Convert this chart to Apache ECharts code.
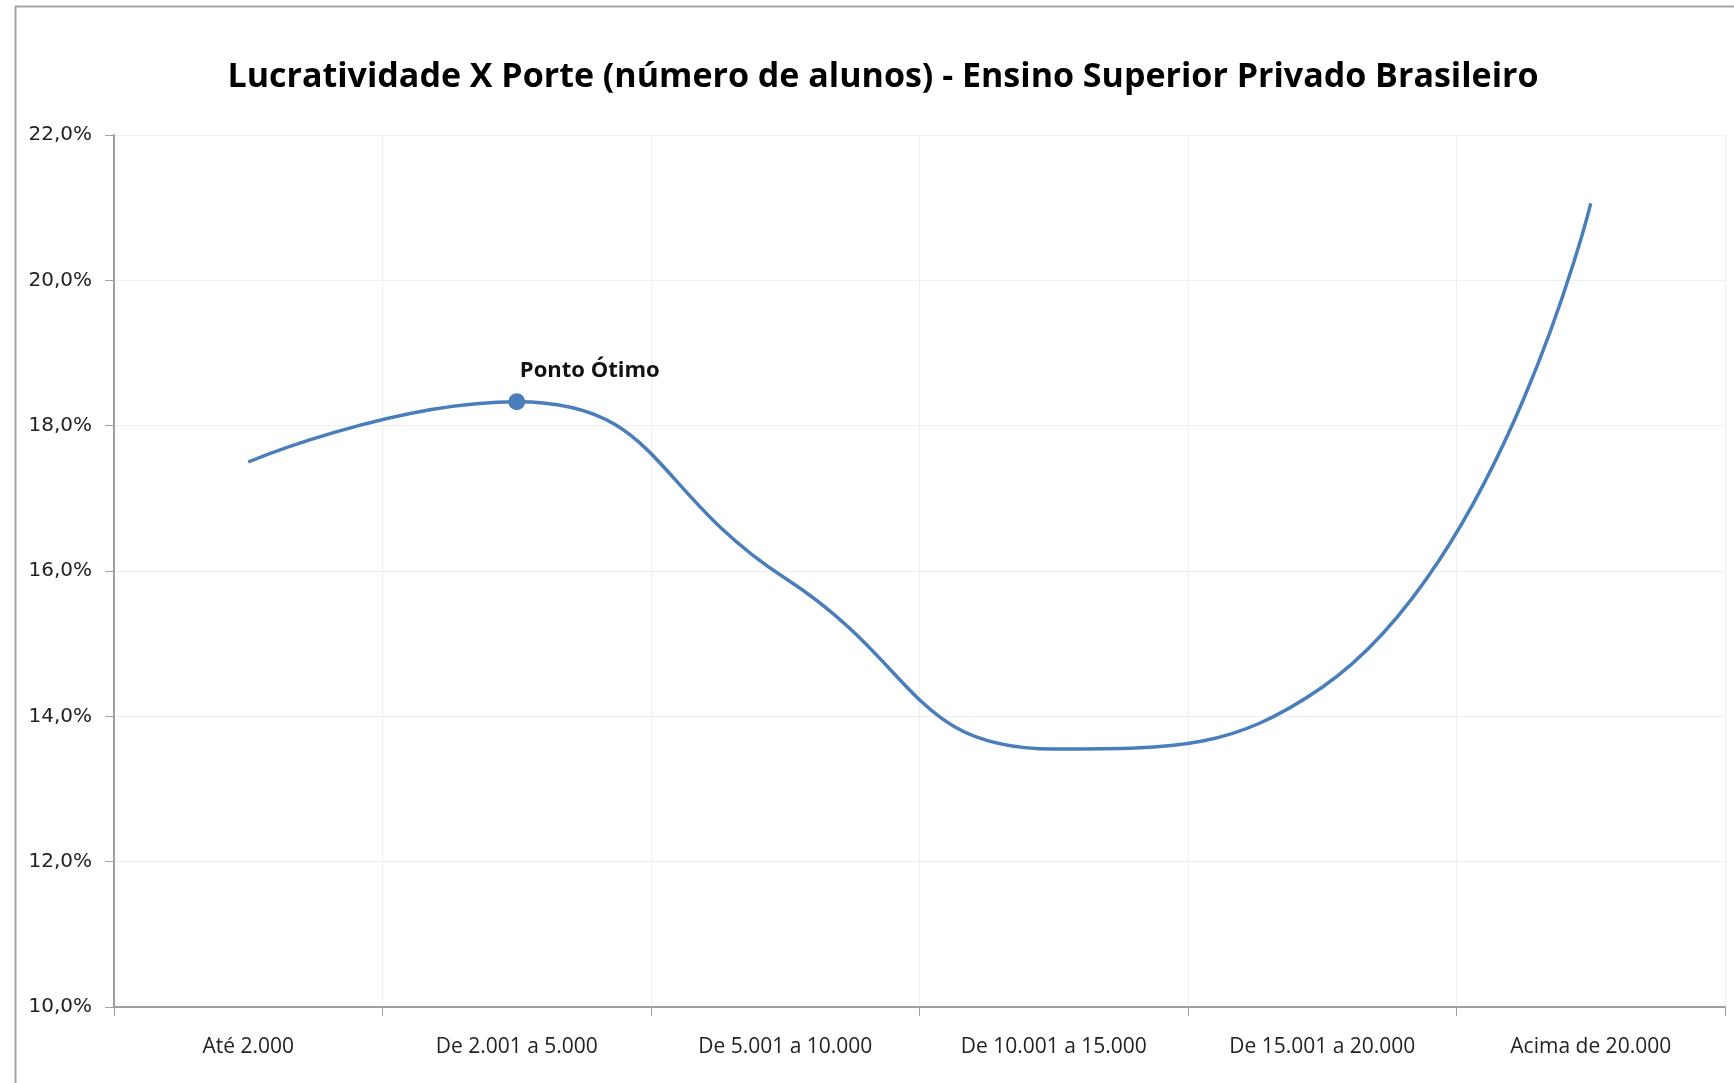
<!DOCTYPE html>
<html>
<head>
<meta charset="utf-8">
<script src="https://cdn.jsdelivr.net/npm/echarts@6/dist/echarts.min.js"></script>
<style>
  html, body { margin: 0; padding: 0; background: #fff; }
  #chart { width: 1734px; height: 1083px; }
</style>
</head>
<body>
<div id="chart"></div>
<script>
// faixas de porte (número de alunos)
var categories = ['Até 2.000', 'De 2.001 a 5.000', 'De 5.001 a 10.000', 'De 10.001 a 15.000', 'De 15.001 a 20.000', 'Acima de 20.000'];
// lucratividade em %
var lucratividade = [17.5, 18.33, 15.9, 13.55, 14.4, 21.06];
var pontoOtimoIndex = 1;
var pontoOtimoLabel = 'Ponto Ótimo';

var mychart = echarts.init(document.getElementById('chart'));

var seriesData = lucratividade.map(function (v, i) {
    if (i == pontoOtimoIndex) {
        return {
            value: v,
            symbol: 'circle',
            symbolSize: 17,
            label: {
                show: true,
                position: 'top',
                offset: [73, -6],
                formatter: pontoOtimoLabel,
                fontFamily: 'Open Sans',
                fontWeight: 'bold',
                fontSize: 22,
                color: '#111'
            }
        };
    }
    return v;
});

var option = {
    backgroundColor: '#fff',
    title: {
        text: 'Lucratividade X Porte (número de alunos) - Ensino Superior Privado Brasileiro',
        left: 878,
        textAlign: 'center',
        top: 55,
        textStyle: {
            fontFamily: 'Open Sans',
            fontWeight: 'bold',
            fontSize: 34,
            color: '#000'
        }
    },
    graphic: [{
        type: 'rect',
        shape: { x: 15.5, y: 6.5, width: 1760, height: 1100 },
        style: { fill: 'none', stroke: '#a6a6a6', lineWidth: 2 },
        silent: true
    }],
    grid: {
        left: 114,
        right: 9,
        top: 135,
        bottom: 76
    },
    xAxis: {
        type: 'category',
        data: categories,
        boundaryGap: true,
        axisLine: { lineStyle: { color: '#a0a0a0', width: 2 } },
        axisTick: { show: true, length: 9, lineStyle: { color: '#a0a0a0' } },
        splitLine: { show: true, lineStyle: { color: '#efefef', width: 1 } },
        axisLabel: {
            interval: 0,
            margin: 30,
            fontFamily: 'Open Sans',
            fontSize: 21,
            color: '#222'
        }
    },
    yAxis: {
        type: 'value',
        min: 10,
        max: 22,
        interval: 2,
        axisLine: { show: true, lineStyle: { color: '#a0a0a0', width: 2 } },
        axisTick: { show: true, length: 9, lineStyle: { color: '#a0a0a0' } },
        splitLine: { show: true, lineStyle: { color: '#efefef', width: 1 } },
        axisLabel: {
            margin: 22,
            fontFamily: 'DejaVu Sans',
            fontSize: 20,
            color: '#222',
            formatter: function (v) {
                return v.toFixed(1).replace('.', ',') + '%';
            }
        }
    },
    series: [{
        type: 'line',
        smooth: 0.5,
        symbol: 'none',
        showSymbol: true,
        data: seriesData,
        lineStyle: { color: '#4a7ebb', width: 3.5 },
        itemStyle: { color: '#4a7ebb' }
    }],
    animation: false
};

mychart.setOption(option, true);
</script>
</body>
</html>
